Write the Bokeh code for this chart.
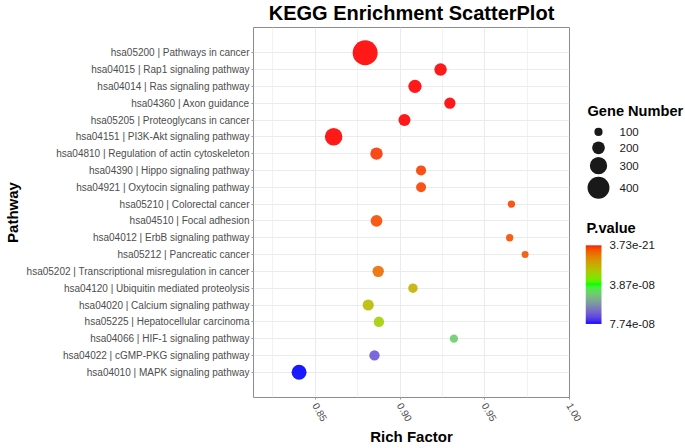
import math
import numpy as np
from bokeh.plotting import figure
from bokeh.models import (FactorRange, Range1d, ColumnDataSource, LinearColorMapper,
                          FixedTicker, LinearInterpolator, NumeralTickFormatter)
from bokeh.transform import transform
from bokeh.layouts import row
from bokeh.core.properties import value
from bokeh.embed import file_html
from bokeh.resources import INLINE

# ---------------- data ----------------
pathway_ids = ["hsa05200", "hsa04015", "hsa04014", "hsa04360", "hsa05205",
               "hsa04151", "hsa04810", "hsa04390", "hsa04921", "hsa05210",
               "hsa04510", "hsa04012", "hsa05212", "hsa05202", "hsa04120",
               "hsa04020", "hsa05225", "hsa04066", "hsa04022", "hsa04010"]
pathway_names = ["Pathways in cancer", "Rap1 signaling pathway", "Ras signaling pathway",
                 "Axon guidance", "Proteoglycans in cancer", "PI3K-Akt signaling pathway",
                 "Regulation of actin cytoskeleton", "Hippo signaling pathway",
                 "Oxytocin signaling pathway", "Colorectal cancer", "Focal adhesion",
                 "ErbB signaling pathway", "Pancreatic cancer",
                 "Transcriptional misregulation in cancer", "Ubiquitin mediated proteolysis",
                 "Calcium signaling pathway", "Hepatocellular carcinoma",
                 "HIF-1 signaling pathway", "cGMP-PKG signaling pathway",
                 "MAPK signaling pathway"]
rich_factor = [0.8794, 0.9239, 0.9088, 0.9294, 0.9026, 0.8608, 0.8861, 0.9124, 0.9124, 0.9657,
               0.8861, 0.9647, 0.9738, 0.8871, 0.9076, 0.8812, 0.8875, 0.9318, 0.8849, 0.8404]
gene_number = [467, 194, 211, 169, 185, 305, 193, 143, 140, 83,
               178, 82, 74, 170, 129, 166, 149, 102, 147, 248]
p_value = [3.73e-21, 1e-12, 1e-11, 5e-11, 2e-10, 3e-10, 2.4e-9, 3.0e-9, 3.2e-9, 3.5e-9,
           4.0e-9, 4.5e-9, 5.0e-9, 8.0e-9, 2.1e-8, 2.3e-8, 2.7e-8, 4.8e-8, 6.8e-8, 7.74e-8]
size_breaks = [100, 200, 300, 400]
x_ticks = [0.85, 0.90, 0.95, 1.00]
x_minor = [0.825, 0.875, 0.925, 0.975]
x_limits = (0.8135, 1.0)

labels = [f"{i} | {n}" for i, n in zip(pathway_ids, pathway_names)]
p_min, p_max = min(p_value), max(p_value)
p_breaks = [p_min, (p_min + p_max) / 2, p_max]

# ---------------- colour palette (Lab interpolation red-green-blue) ----------------
def hex_to_lab(h):
    rgb = [int(h[i:i + 2], 16) / 255 for i in (1, 3, 5)]
    lin = [c / 12.92 if c <= 0.04045 else ((c + 0.055) / 1.055) ** 2.4 for c in rgb]
    r, g, b = lin
    X = (0.4124 * r + 0.3576 * g + 0.1805 * b) / 0.95047
    Y = (0.2126 * r + 0.7152 * g + 0.0722 * b)
    Z = (0.0193 * r + 0.1192 * g + 0.9505 * b) / 1.08883
    f = lambda t: t ** (1 / 3) if t > 0.008856 else 7.787 * t + 16 / 116
    fx, fy, fz = f(X), f(Y), f(Z)
    return (116 * fy - 16, 500 * (fx - fy), 200 * (fy - fz))

def lab_to_hex(L, a, b):
    fy = (L + 16) / 116
    fx = fy + a / 500
    fz = fy - b / 200
    finv = lambda t: t ** 3 if t ** 3 > 0.008856 else (t - 16 / 116) / 7.787
    X, Y, Z = finv(fx) * 0.95047, finv(fy), finv(fz) * 1.08883
    r = 3.2406 * X - 1.5372 * Y - 0.4986 * Z
    g = -0.9689 * X + 1.8758 * Y + 0.0415 * Z
    bb = 0.0557 * X - 0.2040 * Y + 1.0570 * Z
    def gam(c):
        c = c * 12.92 if c <= 0.0031308 else 1.055 * max(c, 0) ** (1 / 2.4) - 0.055
        return int(round(min(max(c, 0), 1) * 255))
    return "#%02x%02x%02x" % (gam(r), gam(g), gam(bb))

def lab_ramp(c1, c2, n):
    l1, l2 = hex_to_lab(c1), hex_to_lab(c2)
    return [lab_to_hex(*[l1[k] + (l2[k] - l1[k]) * i / (n - 1) for k in range(3)]) for i in range(n)]

palette = lab_ramp("#FF0000", "#00FF00", 128) + lab_ramp("#00FF00", "#0000FF", 128)

FONT = "Liberation Sans"
size_lo, size_hi, size_span = 3.6, 26.5, 500.0
color_mapper = LinearColorMapper(palette=palette, low=p_min, high=p_max)
size_scale = LinearInterpolator(x=[0, size_span], y=[size_lo, size_hi])

TOTAL_H = 448
BORDER_TOP, BORDER_BOTTOM = 27, 49

# ---------------- main figure ----------------
source = ColumnDataSource(dict(label=labels, rf=rich_factor, genes=gene_number, p=p_value))

p = figure(width=585, height=TOTAL_H,
           y_range=FactorRange(factors=labels[::-1], range_padding=1, range_padding_units="absolute"),
           x_range=Range1d(*x_limits),
           min_border_left=252, min_border_right=16,
           min_border_top=BORDER_TOP, min_border_bottom=BORDER_BOTTOM,
           output_backend="svg", toolbar_location=None)
p.outline_line_color = "#8C8C8C"
p.outline_line_width = 1
p.background_fill_color = "white"
p.border_fill_color = "white"

p.title.text = "KEGG Enrichment ScatterPlot"
p.title.align = "center"
p.title.vertical_align = "top"
p.title.text_font = FONT
p.title.text_font_size = "20px"
p.title.text_font_style = "bold"
p.title.text_color = "black"
p.title.standoff = 3

p.scatter(x="rf", y="label", source=source, marker="circle",
          size=transform("genes", size_scale),
          fill_color=transform("p", color_mapper), fill_alpha=0.9, line_color=None)

p.xaxis.ticker = FixedTicker(ticks=x_ticks, minor_ticks=x_minor)
p.xaxis.formatter = NumeralTickFormatter(format="0.00")
p.xaxis.major_label_orientation = -math.pi / 3
p.xgrid.ticker = FixedTicker(ticks=x_ticks, minor_ticks=x_minor)
p.xgrid.grid_line_color = "#EBEBEB"
p.xgrid.minor_grid_line_color = "#F2F2F2"
p.ygrid.grid_line_color = "#EBEBEB"

p.xaxis.axis_label = "Rich Factor"
p.xaxis.axis_label_standoff = 1
p.yaxis.axis_label = "Pathway"
p.yaxis.axis_label_standoff = 3

for ax in (p.xaxis[0], p.yaxis[0]):
    ax.axis_line_color = None
    ax.major_tick_line_color = "#999999"
    ax.major_tick_out = 2
    ax.major_tick_in = 0
    ax.minor_tick_line_color = None
    ax.major_label_text_font = FONT
    ax.major_label_text_font_size = "10px"
    ax.major_label_text_color = "#4D4D4D"
    ax.major_label_standoff = 2
    ax.axis_label_text_font = FONT
    ax.axis_label_text_font_size = "15px"
    ax.axis_label_text_font_style = "bold"
    ax.axis_label_text_color = "black"

# ---------------- legend figure (1 data unit = 1 px; frame aligned with main frame) ----------------
side_w = 100
s = figure(width=side_w, height=TOTAL_H, x_range=Range1d(0, side_w),
           y_range=Range1d(BORDER_BOTTOM, TOTAL_H - BORDER_TOP),
           x_axis_type=None, y_axis_type=None,
           min_border_left=0, min_border_right=0,
           min_border_top=BORDER_TOP, min_border_bottom=BORDER_BOTTOM,
           output_backend="svg", toolbar_location=None)
s.outline_line_color = None
s.grid.visible = False

# size legend: key heights follow glyph sizes
diam = [size_lo + (size_hi - size_lo) * g / size_span for g in size_breaks]
key_h = [max(16.0, d + 2.5) for d in diam]
top = 324.0
ys, acc = [], 0.0
for k in key_h:
    ys.append(top - acc - k / 2)
    acc += k
leg = ColumnDataSource(dict(x=[13] * len(size_breaks), y=ys, genes=size_breaks,
                            tx=[34] * len(size_breaks), txt=[str(v) for v in size_breaks]))
s.scatter(x="x", y="y", source=leg, marker="circle", size=transform("genes", size_scale),
          fill_color="black", fill_alpha=0.9, line_color=None)
s.text(x="tx", y="y", text="txt", source=leg, text_font=value(FONT), text_font_size="11.5px",
       text_color="#1A1A1A", text_baseline="middle", text_align="left")
s.text(x=[2], y=[337], text=["Gene Number"], text_font=value(FONT), text_font_size="14.6px",
       text_font_style="bold", text_color="black", text_baseline="alphabetic", text_align="left")

# colour bar: low p-values (red) at the top
bar_x0, bar_w, bar_y0, bar_h = 0, 16, 123, 79
grad = np.linspace(p_max, p_min, 256).reshape(-1, 1)
s.image(image=[grad], x=bar_x0, y=bar_y0, dw=bar_w, dh=bar_h, color_mapper=color_mapper)
lab_y = [bar_y0 + (p_max - v) / (p_max - p_min) * bar_h for v in p_breaks]
cb_src = ColumnDataSource(dict(x=[bar_x0 + bar_w + 8] * 3, y=lab_y, txt=[f"{v:.2e}" for v in p_breaks]))
s.text(x="x", y="y", text="txt", source=cb_src, text_font=value(FONT), text_font_size="11.5px",
       text_color="#1A1A1A", text_baseline="middle", text_align="left")
s.text(x=[1], y=[219], text=["P.value"], text_font=value(FONT), text_font_size="14.6px",
       text_font_style="bold", text_color="black", text_baseline="alphabetic", text_align="left")

layout = row(p, s)
open("out.html", "w").write(file_html(layout, INLINE))
